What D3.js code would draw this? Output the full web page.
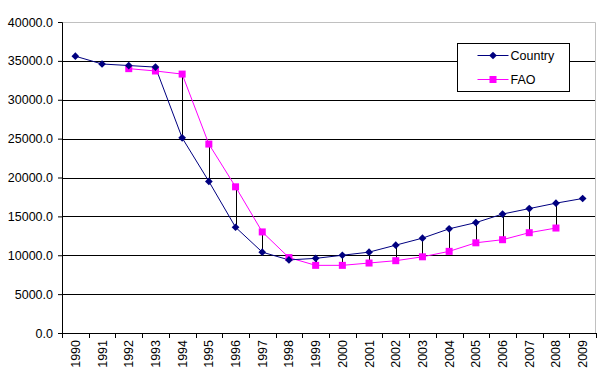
<!DOCTYPE html>
<html>
<head>
<meta charset="utf-8">
<script src="https://cdn.jsdelivr.net/npm/d3@7"></script>
<style>
  body { margin: 0; background: #fff; }
  text { font-family: "Liberation Sans", Arial, sans-serif; font-size: 12.5px; fill: #000; }
</style>
</head>
<body>
<div id="chart"></div>
<script>
// years on the x axis
const years = ["1990","1991","1992","1993","1994","1995","1996","1997","1998","1999",
               "2000","2001","2002","2003","2004","2005","2006","2007","2008","2009"];
// Country series
const country = [35600, 34600, 34400, 34200, 25100, 19500, 13600, 10400, 9400, 9600,
                 10000, 10400, 11300, 12200, 13400, 14200, 15300, 16000, 16700, 17300];
// FAO series (null = no value)
const fao = [null, null, 34000, 33700, 33300, 24300, 18800, 13000, 9700, 8700,
             8700, 9000, 9300, 9800, 10500, 11600, 12000, 12900, 13500, null];
const yTicks = [0, 5000, 10000, 15000, 20000, 25000, 30000, 35000, 40000];

const margin = {top: 22, right: 9, bottom: 42, left: 62};
const width = 605 - margin.left - margin.right;
const height = 375 - margin.top - margin.bottom;

const svg = d3.select("#chart").append("svg")
    .attr("width", 605)
    .attr("height", 375);

const g = svg.append("g")
    .attr("transform", `translate(${margin.left}, ${margin.top})`);

const x = d3.scaleBand().domain(years).range([0, width]);
const y = d3.scaleLinear().domain([0, 40000]).range([height, 0]);
const cx = d => x(d) + x.bandwidth() / 2;

// gridlines
g.selectAll("line.grid")
    .data(yTicks.filter(d => d > 0 && d < 40000))
    .enter().append("line")
    .attr("class", "grid")
    .attr("x1", 0).attr("x2", width)
    .attr("y1", d => Math.round(y(d)) + 0.5).attr("y2", d => Math.round(y(d)) + 0.5)
    .attr("stroke", "#000");

// grey top/right border
g.append("path")
    .attr("d", `M0,0.5H${width - 0.5}V${height}`)
    .attr("fill", "none")
    .attr("stroke", "#c0c0c0");

// y axis
const yAxis = g.append("g")
    .call(d3.axisLeft(y).tickValues(yTicks).tickFormat(d3.format(".1f")).tickSize(4).tickPadding(5));
yAxis.select(".domain").attr("stroke", "#000");
yAxis.selectAll(".tick line").attr("stroke", "#000");
yAxis.selectAll("text").style("font-size", "12.5px").attr("fill", "#000");
yAxis.attr("font-family", null);

// x axis with ticks between categories
const xAxisG = g.append("g").attr("transform", `translate(0, ${height})`);
xAxisG.append("line")
    .attr("x1", 0).attr("x2", width).attr("y1", 0.5).attr("y2", 0.5)
    .attr("stroke", "#000");
xAxisG.selectAll("line.tk")
    .data(years.concat(["end"]))
    .enter().append("line")
    .attr("class", "tk")
    .attr("x1", (d, i) => Math.round(i * x.bandwidth()) + 0.5)
    .attr("x2", (d, i) => Math.round(i * x.bandwidth()) + 0.5)
    .attr("y1", 0).attr("y2", 5)
    .attr("stroke", "#000");
xAxisG.selectAll("text")
    .data(years)
    .enter().append("text")
    .attr("transform", d => `translate(${cx(d) + 4.5}, 7) rotate(-90)`)
    .attr("text-anchor", "end")
    .text(d => d);

// high-low lines between the two series
const pairs = years.map((d, i) => ({year: d, a: country[i], b: fao[i]})).filter(d => d.b != null);
g.selectAll("line.hl")
    .data(pairs)
    .enter().append("line")
    .attr("class", "hl")
    .attr("x1", d => Math.round(cx(d.year)) + 0.5).attr("x2", d => Math.round(cx(d.year)) + 0.5)
    .attr("y1", d => y(d.a)).attr("y2", d => y(d.b))
    .attr("stroke", "#000");

// lines
const line = d3.line()
    .defined(d => d.v != null)
    .x(d => cx(d.year))
    .y(d => y(d.v));

const countryData = years.map((d, i) => ({year: d, v: country[i]}));
const faoData = years.map((d, i) => ({year: d, v: fao[i]}));

g.append("path").datum(faoData)
    .attr("d", line).attr("fill", "none").attr("stroke", "#ff00ff").attr("stroke-width", 1);
g.append("path").datum(countryData)
    .attr("d", line).attr("fill", "none").attr("stroke", "#000080").attr("stroke-width", 1);

// markers
g.selectAll("rect.fao")
    .data(faoData.filter(d => d.v != null))
    .enter().append("rect")
    .attr("class", "fao")
    .attr("x", d => cx(d.year) - 3.5).attr("y", d => y(d.v) - 3.5)
    .attr("width", 7).attr("height", 7)
    .attr("fill", "#ff00ff");

const diamond = d3.symbol().type(d3.symbolDiamond2).size(38);
g.selectAll("path.cty")
    .data(countryData)
    .enter().append("path")
    .attr("class", "cty")
    .attr("transform", d => `translate(${cx(d.year)}, ${y(d.v)})`)
    .attr("d", diamond)
    .attr("fill", "#000080");

// legend
const lg = svg.append("g").attr("transform", "translate(457.5, 43.5)");
lg.append("rect")
    .attr("width", 112).attr("height", 48)
    .attr("fill", "#fff").attr("stroke", "#000");
const items = [{name: "Country", color: "#000080"}, {name: "FAO", color: "#ff00ff"}];
items.forEach((it, i) => {
  const yy = 12 + i * 24;
  lg.append("line")
      .attr("x1", 20).attr("x2", 51).attr("y1", yy).attr("y2", yy)
      .attr("stroke", it.color);
  if (i === 0) {
    lg.append("path").attr("transform", `translate(35.5, ${yy})`)
        .attr("d", diamond).attr("fill", it.color);
  } else {
    lg.append("rect").attr("x", 32).attr("y", yy - 3.5)
        .attr("width", 7).attr("height", 7).attr("fill", it.color);
  }
  lg.append("text")
      .attr("x", 53).attr("y", yy).attr("dy", "0.35em")
      .text(it.name);
});
</script>
</body>
</html>
